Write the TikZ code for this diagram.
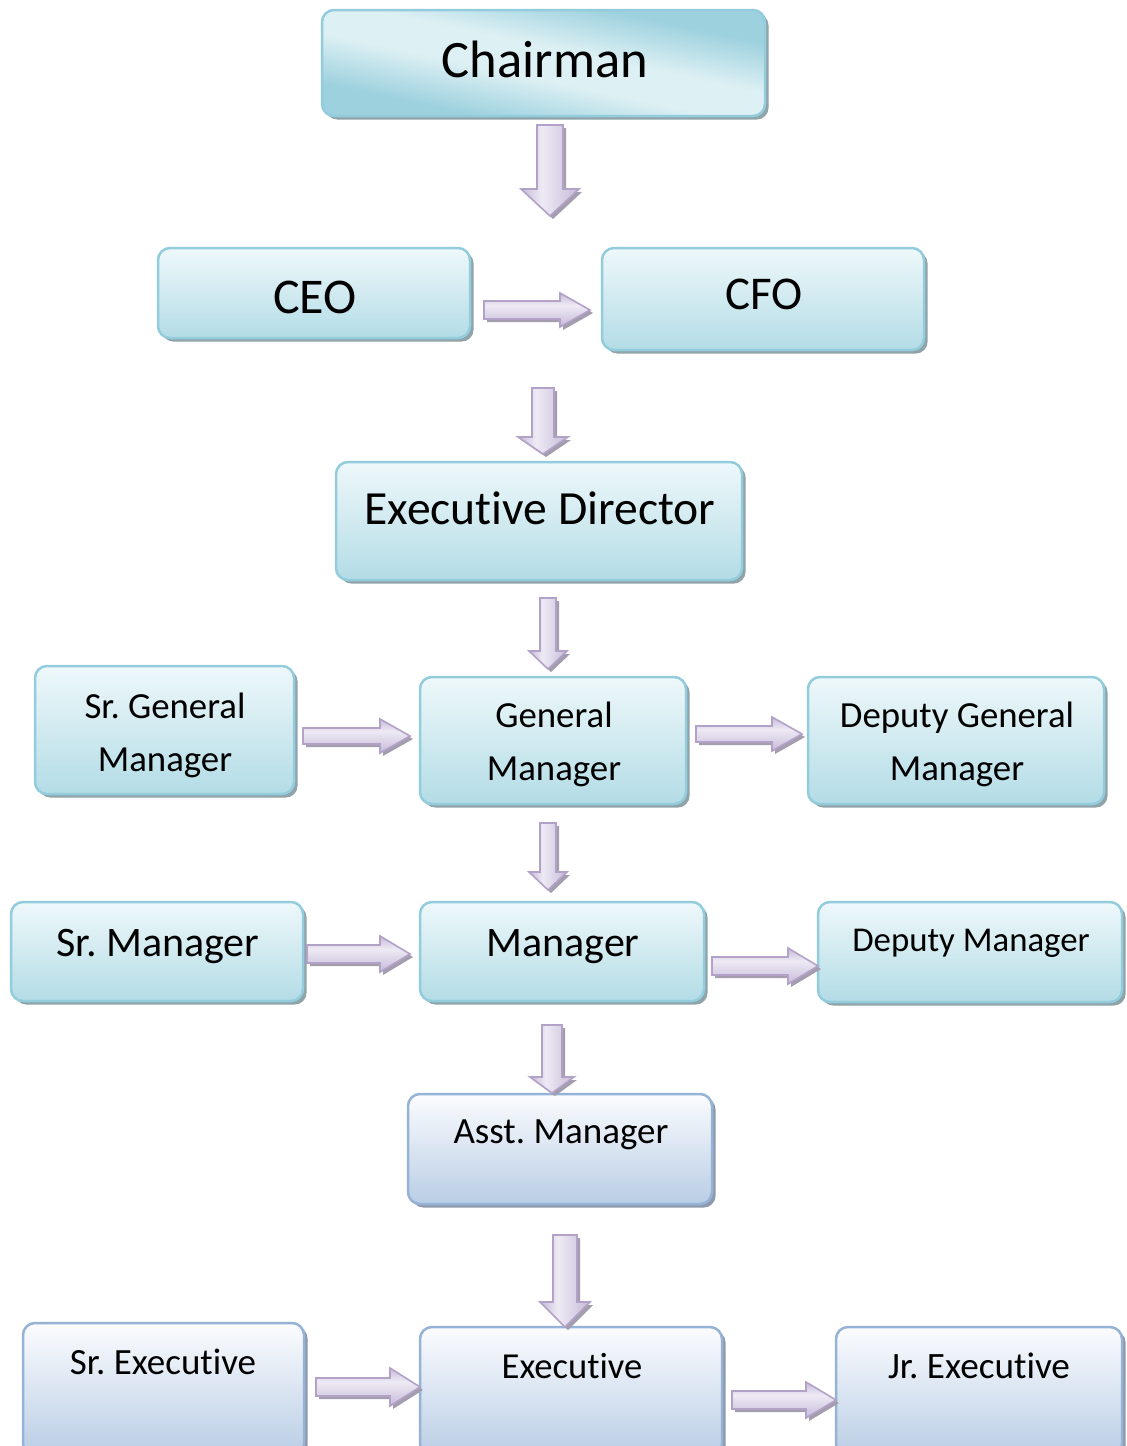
\documentclass[tikz,border=0pt]{standalone}
\usepackage{fontspec}
\setmainfont{Carlito}[RawFeature={-liga;-clig;-dlig}]
\usetikzlibrary{calc,shadows}

\definecolor{tealB}{HTML}{93CDDD}
\definecolor{tealTop}{HTML}{EEF8FA}
\definecolor{tealBot}{HTML}{B3DCE6}
\definecolor{tealDark}{HTML}{9DD1DE}
\definecolor{tealLight}{HTML}{DDF0F4}
\definecolor{blueB}{HTML}{95B3D7}
\definecolor{blueTop}{HTML}{FBFCFE}
\definecolor{blueBot}{HTML}{B9CDE5}
\definecolor{shadowT}{HTML}{8FA3A8}
\definecolor{shadowB}{HTML}{8E9AAB}
\definecolor{arrB}{HTML}{B3A2C7}
\definecolor{arrD}{HTML}{C6BAD9}
\definecolor{arrL}{HTML}{EEEAF4}
\definecolor{arrS}{HTML}{A39DAD}

\pgfdeclarehorizontalshading{arrowsh}{100bp}{color(0bp)=(arrD); color(25bp)=(arrD); color(43bp)=(arrL); color(75bp)=(arrD); color(100bp)=(arrD)}
\pgfdeclarehorizontalshading{chairsh}{100bp}{color(0bp)=(tealDark); color(30bp)=(tealDark); color(45bp)=(tealLight); color(55bp)=(tealLight); color(70bp)=(tealDark); color(100bp)=(tealDark)}

\tikzset{
  basebox/.style={line width=1.25pt, rounded corners=6pt, inner sep=0pt, rectangle},
  tbox/.style={basebox, draw=tealB, top color=tealTop, bottom color=tealBot,
    drop shadow={shadow xshift=1.8pt, shadow yshift=-1.8pt, fill=shadowT, opacity=1}},
  bbox/.style={basebox, draw=blueB, top color=blueTop, bottom color=blueBot,
    drop shadow={shadow xshift=1.8pt, shadow yshift=-1.8pt, fill=shadowB, opacity=1}},
  chairbox/.style={tbox, shading=chairsh, shading angle=78},
  arr/.style={draw=arrB, line width=0.8pt, shading=arrowsh,
    drop shadow={shadow xshift=1.5pt, shadow yshift=-1.5pt, fill=arrS, opacity=1}},
  harr/.style={arr, shading angle=-90},
  lbl/.style={anchor=base, inner sep=0pt, text=black},
}

% box: name, x1, y1, x2, y2, style
\newcommand\bx[6]{\node[#6, minimum width={(#4-#2)*0.5pt}, minimum height={(#5-#3)*0.5pt}] (#1) at ({(#2+#4)/2},{(#3+#5)/2}) {};}
% vertical block arrow: start, end, shaft half, head half, head length (px)
\newcommand\vArrow[5]{\draw[arr] let \p1=(#1),\p2=(#2) in
  (\x1-#3*0.5pt,\y1) -- (\x1+#3*0.5pt,\y1) -- (\x1+#3*0.5pt,\y2+#5*0.5pt) -- (\x1+#4*0.5pt,\y2+#5*0.5pt)
  -- (\x1,\y2) -- (\x1-#4*0.5pt,\y2+#5*0.5pt) -- (\x1-#3*0.5pt,\y2+#5*0.5pt) -- cycle;}
% horizontal block arrow
\newcommand\hArrow[5]{\draw[harr] let \p1=(#1),\p2=(#2) in
  (\x1,\y1+#3*0.5pt) -- (\x2-#5*0.5pt,\y1+#3*0.5pt) -- (\x2-#5*0.5pt,\y1+#4*0.5pt) -- (\x2,\y1)
  -- (\x2-#5*0.5pt,\y1-#4*0.5pt) -- (\x2-#5*0.5pt,\y1-#3*0.5pt) -- (\x1,\y1-#3*0.5pt) -- cycle;}

\begin{document}
\frenchspacing
\begin{tikzpicture}[x=0.5pt, y=-0.5pt]
\useasboundingbox[fill=white] (0,0) rectangle (1126,1446);

% boxes
\bx{chair}{322}{10}{765}{116}{chairbox}
\bx{ceo}{158}{248}{470}{338}{tbox}
\bx{cfo}{602}{248}{924}{350}{tbox}
\bx{ed}{336}{462}{742}{580}{tbox}
\bx{sgm}{35}{666}{294}{794}{tbox}
\bx{gm}{420}{677}{686}{804}{tbox}
\bx{dgm}{808}{677}{1104}{804}{tbox}
\bx{smgr}{11}{902}{303}{1001}{tbox}
\bx{mgr}{420}{902}{704}{1001}{tbox}
\bx{dmgr}{818}{902}{1122}{1002}{tbox}
\bx{asst}{408}{1094}{712}{1204}{bbox}
\bx{sexec}{23}{1323}{304}{1456}{bbox}
\bx{exec}{420}{1327}{722}{1456}{bbox}
\bx{jexec}{836}{1327}{1122}{1456}{bbox}

% texts
\node[lbl, font=\fontsize{26.3}{30}\selectfont] (chair-t) at (545,77) {Chairman};
\node[lbl, font=\fontsize{25}{30}\selectfont] (ceo-t) at (315,313) {CEO};
\node[lbl, font=\fontsize{23.5}{30}\selectfont] (cfo-t) at (764,309) {CFO};
\node[lbl, font=\fontsize{23.8}{30}\selectfont] (ed-t) at (540,524) {Executive Director};
\node[lbl, font=\fontsize{18.4}{22}\selectfont] (sgm-t1) at (165,718) {Sr. General};
\node[lbl, font=\fontsize{18.4}{22}\selectfont] (sgm-t2) at (165,771) {Manager};
\node[lbl, font=\fontsize{18.4}{22}\selectfont] (gm-t1) at (554,727) {General};
\node[lbl, font=\fontsize{18.4}{22}\selectfont] (gm-t2) at (554,780) {Manager};
\node[lbl, font=\fontsize{18.4}{22}\selectfont] (dgm-t1) at (957,727) {Deputy General};
\node[lbl, font=\fontsize{18.4}{22}\selectfont] (dgm-t2) at (957,780) {Manager};
\node[lbl, font=\fontsize{21}{25}\selectfont] (smgr-t) at (158,956) {Sr. Manager};
\node[lbl, font=\fontsize{21}{25}\selectfont] (mgr-t) at (563,956) {Manager};
\node[lbl, font=\fontsize{17.4}{21}\selectfont] (dmgr-t) at (971,951) {Deputy Manager};
\node[lbl, font=\fontsize{18.5}{22}\selectfont] (asst-t) at (561,1143) {Asst. Manager};
\node[lbl, font=\fontsize{18.5}{22}\selectfont] (sexec-t) at (163,1374) {Sr. Executive};
\node[lbl, font=\fontsize{18.3}{22}\selectfont] (exec-t) at (572,1378) {Executive};
\node[lbl, font=\fontsize{18.6}{22}\selectfont] (jexec-t) at (979,1378) {Jr. Executive};

% arrow end points
\coordinate (a1s) at (550,125);  \coordinate (a1e) at (550,216);
\coordinate (a2s) at (484,310);  \coordinate (a2e) at (590,310);
\coordinate (a3s) at (543,388);  \coordinate (a3e) at (543,454);
\coordinate (a4s) at (548,598);  \coordinate (a4e) at (548,669);
\coordinate (a5s) at (548,823);  \coordinate (a5e) at (548,890);
\coordinate (a6s) at (552,1025); \coordinate (a6e) at (552,1093);
\coordinate (a7s) at (565,1235); \coordinate (a7e) at (565,1327);
\coordinate (a8s) at (303,736);  \coordinate (a8e) at (410,736);
\coordinate (a9s) at (696,734);  \coordinate (a9e) at (802,734);
\coordinate (a10s) at (307,954); \coordinate (a10e) at (410,954);
\coordinate (a11s) at (712,966); \coordinate (a11e) at (818,966);
\coordinate (a12s) at (316,1387); \coordinate (a12e) at (420,1387);
\coordinate (a13s) at (732,1400); \coordinate (a13e) at (836,1400);

\vArrow{a1s}{a1e}{13}{29}{27}
\hArrow{a2s}{a2e}{9}{17}{30}
\vArrow{a3s}{a3e}{11}{25}{17}
\vArrow{a4s}{a4e}{8}{19}{18}
\vArrow{a5s}{a5e}{8}{19}{18}
\vArrow{a6s}{a6e}{10}{22}{16}
\vArrow{a7s}{a7e}{12}{25}{25}
\hArrow{a8s}{a8e}{8}{17}{30}
\hArrow{a9s}{a9e}{8}{17}{30}
\hArrow{a10s}{a10e}{9}{18}{30}
\hArrow{a11s}{a11e}{9}{18}{30}
\hArrow{a12s}{a12e}{9}{19}{30}
\hArrow{a13s}{a13e}{9}{18}{30}
\end{tikzpicture}
\end{document}
